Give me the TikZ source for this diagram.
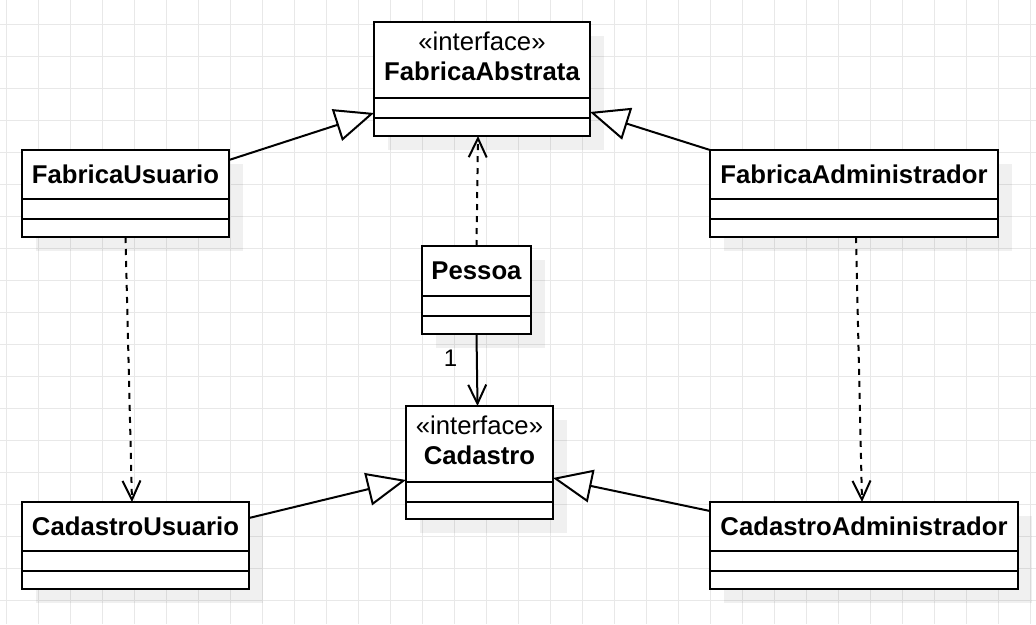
\documentclass[tikz,border=0pt]{standalone}
\usepackage{fontspec}
\setmainfont{Liberation Sans}
\usetikzlibrary{arrows.meta,shadows,calc}
\begin{document}
\begin{tikzpicture}[x=1pt,y=-1pt,
  classbox/.style={rectangle, draw=black, line width=2pt, fill=white, anchor=north west,
    inner sep=0pt, outer sep=0pt,
    drop shadow={shadow xshift=14pt, shadow yshift=-14pt, fill=black, opacity=0.06}},
  divider/.style={draw=black, line width=2pt},
  cname/.style={font=\fontsize{25.7pt}{30pt}\selectfont\bfseries, inner sep=0pt, anchor=base},
  stereo/.style={font=\fontsize{25.7pt}{30pt}\selectfont, inner sep=0pt, anchor=base},
  multlabel/.style={font=\fontsize{24pt}{28pt}\selectfont, inner sep=0pt, anchor=base},
  general/.style={line width=2pt, -{Triangle[length=39pt,width=33pt,fill=white]}},
  depend/.style={line width=2pt, dash pattern=on 6pt off 6pt, -{Straight Barb[length=19pt,width=18pt]}},
  assoc/.style={line width=2pt, -{Straight Barb[length=19pt,width=18pt]}},
  gridline/.style={draw=black!9, line width=1pt}
]
\useasboundingbox (0,0) rectangle (1036,624);
\fill[white] (0,0) rectangle (1036,624);
% grid
\foreach \i in {0,...,32} \draw[gridline] (6.5+32*\i,0) -- (6.5+32*\i,624);
\foreach \j in {0,...,18} \draw[gridline] (0,24+32*\j) -- (1036,24+32*\j);

% boxes
\node[classbox, minimum width=216pt, minimum height=114pt] (FA) at (374,22) {};
\node[classbox, minimum width=207pt, minimum height=87pt] (FU) at (22,150) {};
\node[classbox, minimum width=288pt, minimum height=87pt] (FAd) at (710,150) {};
\node[classbox, minimum width=109pt, minimum height=88pt] (P) at (422,246) {};
\node[classbox, minimum width=147pt, minimum height=113pt] (C) at (406,406) {};
\node[classbox, minimum width=227pt, minimum height=87pt] (CU) at (22,502) {};
\node[classbox, minimum width=308pt, minimum height=87pt] (CA) at (710,502) {};

% dividers
\foreach \b/\da/\db in {FA/76/96, FU/49/69, FAd/49/69, P/50/70, C/76/96, CU/49/69, CA/49/69}{
  \draw[divider] ($(\b.north west)+(0,\da)$) -- ($(\b.north east)+(0,\da)$);
  \draw[divider] ($(\b.north west)+(0,\db)$) -- ($(\b.north east)+(0,\db)$);
}

% texts
\node[stereo] (FAs) at ($(FA.north)+(0,28.5)$) {«interface»};
\node[cname] (FAn) at ($(FA.north)+(0,58.5)$) {FabricaAbstrata};
\node[stereo] (Cs) at ($(C.north)+(0,28.5)$) {«interface»};
\node[cname] (Cn) at ($(C.north)+(0,58.5)$) {Cadastro};
\node[cname] (FUn) at ($(FU.north)+(0,33)$) {FabricaUsuario};
\node[cname] (FAdn) at ($(FAd.north)+(0,33)$) {FabricaAdministrador};
\node[cname] (Pn) at ($(P.north)+(0,33)$) {Pessoa};
\node[cname] (CUn) at ($(CU.north)+(0,33)$) {CadastroUsuario};
\node[cname] (CAn) at ($(CA.north)+(0,33)$) {CadastroAdministrador};

% connectors
\draw[general] ([yshift=-10pt]FU.north east) -- ([yshift=23pt]FA.south west);
\draw[general] (FAd.north west) -- ([yshift=24pt]FA.south east);
\draw[depend] (P.north) -- ([xshift=-4pt]FA.south);
\draw[assoc] (P.south) -- ([xshift=-2pt]C.north);
\node[multlabel] (one) at (450.5,366.5) {1};
\draw[depend] (FU.south) -- ([xshift=-3.5pt]CU.north);
\draw[depend] ([xshift=2pt]FAd.south) -- ([xshift=-2pt]CA.north);
\draw[general] ([yshift=-16pt]CU.north east) -- ([yshift=39pt]C.south west);
\draw[general] ([yshift=-9pt]CA.north west) -- ([yshift=41pt]C.south east);
\end{tikzpicture}
\end{document}
